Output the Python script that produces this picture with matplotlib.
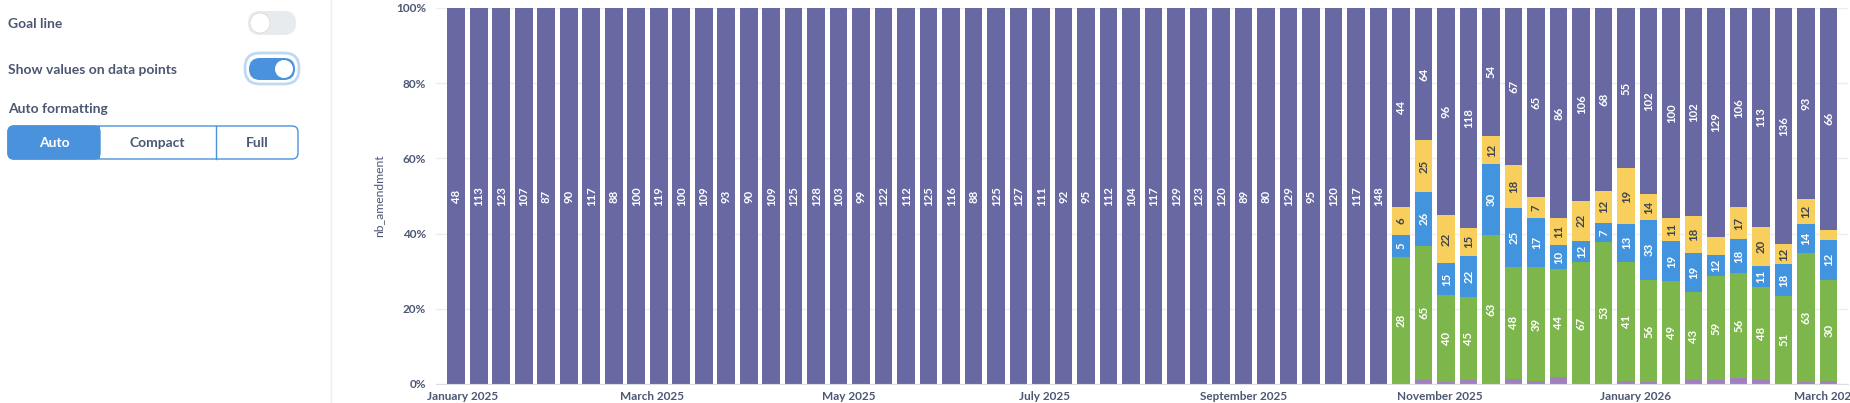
import numpy as np
import pandas as pd
import matplotlib.pyplot as plt
import matplotlib.dates as mdates
from matplotlib.patches import FancyBboxPatch, Rectangle, Circle
from matplotlib.ticker import FuncFormatter

plt.rcParams['font.family'] = ['Lato', 'DejaVu Sans']

# DATA (weekly counts, stacked bottom -> top)
first_week = '2024-12-30'
n_weeks = 62
n_only_top = 42  # weeks with only the top series

top_series = [48, 113, 123, 107, 87, 90, 117, 88, 100, 119,
              100, 109, 93, 90, 109, 125, 128, 103, 99, 122,
              112, 125, 116, 88, 125, 127, 111, 92, 95, 112,
              104, 117, 129, 123, 120, 89, 80, 129, 95, 120,
              117, 148,
              44, 64, 96, 118, 54, 67, 65, 86, 106, 68,
              55, 102, 100, 102, 129, 106, 113, 136, 93, 66]
yellow_series = [0] * n_only_top + [6, 25, 22, 15, 12, 18, 7, 11, 22, 12,
                                    19, 14, 11, 18, 10, 17, 20, 12, 12, 3]
blue_series = [0] * n_only_top + [5, 26, 15, 22, 30, 25, 17, 10, 12, 7,
                                  13, 33, 19, 19, 12, 18, 11, 18, 14, 12]
green_series = [0] * n_only_top + [28, 65, 40, 45, 63, 48, 39, 44, 67, 53,
                                   41, 56, 49, 43, 59, 56, 48, 51, 63, 30]
lilac_series = [0] * n_only_top + [0, 2, 1, 2, 0, 2, 1, 3, 0, 0,
                                   1, 1, 0, 2, 2, 3, 2, 0, 1, 1]

y_ticks = [0, 0.2, 0.4, 0.6, 0.8, 1.0]

# colours
C_PURPLE = '#6868A2'
C_YELLOW = '#F8CE5C'
C_BLUE = '#4394DE'
C_GREEN = '#7DB64B'
C_LILAC = '#A080BE'
TXT = '#4C5773'
UI_BLUE = '#4A93DC'

W, H = 1850, 403
fig = plt.figure(figsize=(W / 100, H / 100), dpi=100)

# ---- left settings panel (pixel coords) ----
bg = fig.add_axes([0, 0, 1, 1])
bg.set_xlim(0, W)
bg.set_ylim(H, 0)
bg.axis('off')

bg.plot([331, 331], [0, H], color='#EEEEEE', lw=1)

bg.text(8, 24, 'Goal line', fontsize=10, fontweight='bold', color=TXT, va='center')
bg.text(8, 70, 'Show values on data points', fontsize=10, fontweight='bold', color=TXT, va='center')
bg.text(8, 109, 'Auto formatting', fontsize=10, fontweight='bold', color=TXT, va='center')

# goal line toggle (off)
bg.add_patch(FancyBboxPatch((248, 11), 48, 24, boxstyle='round,pad=0,rounding_size=12',
                            fc='#E8EBEE', ec='none'))
bg.add_patch(Circle((260, 23), 10, fc='white', ec='#D8DBDF', lw=0.6))

# show values toggle (on)
bg.add_patch(FancyBboxPatch((245, 53), 54, 31, boxstyle='round,pad=0,rounding_size=15',
                            fc='white', ec='#BFD9F4', lw=2))
bg.add_patch(FancyBboxPatch((249, 58), 46, 22, boxstyle='round,pad=0,rounding_size=11',
                            fc=UI_BLUE, ec='none'))
bg.add_patch(Circle((284, 69), 9, fc='white', ec='none'))

# segmented control
bg.add_patch(FancyBboxPatch((8, 126), 290, 33, boxstyle='round,pad=0,rounding_size=6',
                            fc='white', ec=UI_BLUE, lw=1))
bg.add_patch(FancyBboxPatch((8, 126), 92, 33, boxstyle='round,pad=0,rounding_size=6',
                            fc=UI_BLUE, ec=UI_BLUE, lw=1))
bg.add_patch(Rectangle((70, 126), 30, 33, fc=UI_BLUE, ec='none'))
bg.plot([216, 216], [126, 159], color=UI_BLUE, lw=1)
bg.text(54, 143, 'Auto', fontsize=10, fontweight='bold', color='white', ha='center', va='center')
bg.text(157, 143, 'Compact', fontsize=10, fontweight='bold', color=TXT, ha='center', va='center')
bg.text(257, 143, 'Full', fontsize=10, fontweight='bold', color=TXT, ha='center', va='center')

# ---- chart ----
ax_left, ax_right, ax_top, ax_bot = 436, 1848, 8, 384
ax = fig.add_axes([ax_left / W, 1 - ax_bot / H, (ax_right - ax_left) / W, (ax_bot - ax_top) / H])
ax.set_facecolor('none')

weeks = pd.date_range(first_week, periods=n_weeks, freq='7D')
x = mdates.date2num(weeks)

series = [(lilac_series, C_LILAC, 'white'),
          (green_series, C_GREEN, 'white'),
          (blue_series, C_BLUE, 'white'),
          (yellow_series, C_YELLOW, '#3D4451'),
          (top_series, C_PURPLE, 'white')]

totals = np.sum([np.array(s[0], dtype=float) for s in series], axis=0)
bar_w = 5.45
plot_h = ax_bot - ax_top
bottom = np.zeros(n_weeks)
for vals, col, lab_col in series:
    frac = np.array(vals) / totals
    ax.bar(x, frac, width=bar_w, bottom=bottom, color=col, lw=0, zorder=2)
    for xi, v, f, b in zip(x, vals, frac, bottom):
        seg_px = f * plot_h
        txt_px = 6.5 * len(str(v))
        if v > 0 and seg_px >= txt_px + 6:
            ax.text(xi, b + f / 2, str(v), rotation=90, ha='center', va='center',
                    fontsize=8.2, fontweight='bold', color=lab_col, zorder=3)
    bottom += frac

ax.set_ylim(0, 1)
ax.set_xlim(x[0] - 6.3, x[0] + 433)
ax.set_yticks(y_ticks)
ax.yaxis.set_major_formatter(FuncFormatter(lambda v, p: f'{v * 100:.0f}%'))
ax.grid(axis='y', color='#EDEDED', lw=1, zorder=0)
ax.set_axisbelow(True)
for s in ['top', 'right', 'left']:
    ax.spines[s].set_visible(False)
ax.spines['bottom'].set_color('#DCDFE2')
ax.tick_params(axis='both', length=0, labelsize=8.5, labelcolor=TXT)
ax.tick_params(axis='y', pad=7)
ax.tick_params(axis='x', pad=5)

ax.xaxis.set_major_locator(mdates.MonthLocator(bymonth=[1, 3, 5, 7, 9, 11]))
ax.xaxis.set_major_formatter(mdates.DateFormatter('%B %Y'))
for lbl in ax.get_yticklabels() + ax.get_xticklabels():
    lbl.set_fontweight('bold')

fig.text(379 / W, 1 - 196 / H, 'nb_amendment', rotation=90, ha='center', va='center',
         fontsize=8.7, color=TXT)

fig.savefig('out.png', dpi=100)
